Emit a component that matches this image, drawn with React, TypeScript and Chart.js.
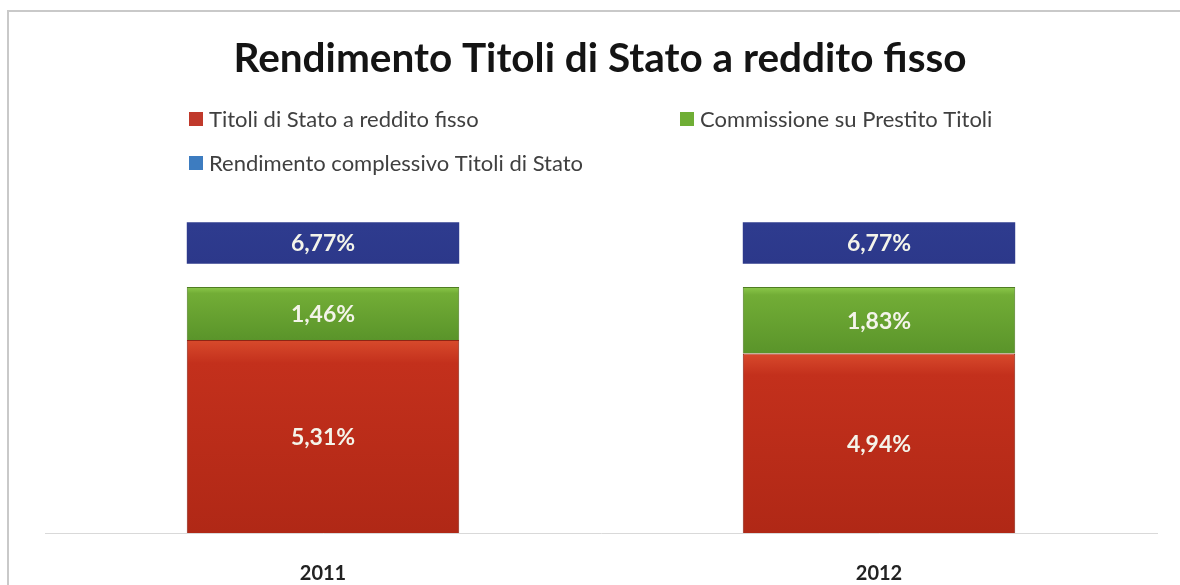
import React, { useEffect, useRef } from "react";
import { Chart, registerables } from "chart.js";

Chart.register(...registerables);

// ---- data ----
const categories = ["2011", "2012"];
const titoliValues = [5.31, 4.94];
const commissioneValues = [1.46, 1.83];
const complessivoValues = [6.77, 6.77];
const seriesNames = [
  "Titoli di Stato a reddito fisso",
  "Commissione su Prestito Titoli",
  "Rendimento complessivo Titoli di Stato",
];
const chartTitle = "Rendimento Titoli di Stato a reddito fisso";

// ---- style ----
const BOX_GAP = 0.64; // gap between stack and total box (value units)
const BOX_HEIGHT = 1.14; // height of total box (value units)
const GRAD = [
  ["#d84a2c", "#c3301c", "#b02816"],
  ["#8cc84a", "#72ad36", "#5a942a"],
  ["#2f3c8f", "#2e3b8e", "#2c388a"],
];
const BORDERS = ["#8e2414", "#4f7d22", "#243070"];
const LEGEND_BOX = ["#c0392b", "#6fae35", "#3d7cc0"];
const FONT = "Lato, 'Noto Sans', 'DejaVu Sans', sans-serif";

const fmt = (v: number) => v.toFixed(2).replace(".", ",") + "%";

const labelSets = [titoliValues, commissioneValues, complessivoValues];

const gradientFor = (di: number) => (c: any) => {
  const chart = c.chart;
  const y = chart.scales && chart.scales.y;
  const raw = c.raw;
  if (!y || !Array.isArray(raw) || !chart.chartArea) return GRAD[di][1];
  const top = y.getPixelForValue(raw[1]);
  const bot = y.getPixelForValue(raw[0]);
  if (!isFinite(top) || !isFinite(bot) || top === bot) return GRAD[di][1];
  const g = chart.ctx.createLinearGradient(0, top, 0, bot);
  g.addColorStop(0, GRAD[di][0]);
  g.addColorStop(0.12, GRAD[di][1]);
  g.addColorStop(1, GRAD[di][2]);
  return g;
};

const decorPlugin = {
  id: "decor",
  beforeDraw(chart: any) {
    const ctx = chart.ctx;
    ctx.save();
    ctx.fillStyle = "#ffffff";
    ctx.fillRect(0, 0, chart.width, chart.height);
    // frame
    ctx.strokeStyle = "#c9c9c9";
    ctx.lineWidth = 2;
    ctx.beginPath();
    ctx.moveTo(8, 585);
    ctx.lineTo(8, 11);
    ctx.lineTo(1180, 11);
    ctx.stroke();
    // title
    ctx.fillStyle = "#141414";
    ctx.font = `bold 40.5px ${FONT}`;
    ctx.textAlign = "center";
    ctx.textBaseline = "alphabetic";
    ctx.fillText(chartTitle, 600, 72);
    // legend
    const items = [
      { x: 189, y: 119 },
      { x: 680, y: 119 },
      { x: 189, y: 163 },
    ];
    ctx.font = `22px ${FONT}`;
    ctx.textAlign = "left";
    ctx.textBaseline = "middle";
    items.forEach((it, i) => {
      ctx.fillStyle = LEGEND_BOX[i];
      ctx.fillRect(it.x, it.y - 7, 14, 14);
      ctx.fillStyle = "#404040";
      ctx.fillText(seriesNames[i], it.x + 20, it.y + 1);
    });
    ctx.restore();
  },
  afterDatasetsDraw(chart: any) {
    const ctx = chart.ctx;
    ctx.save();
    ctx.font = `bold 23px ${FONT}`;
    ctx.fillStyle = "#f4f4ea";
    ctx.textAlign = "center";
    ctx.textBaseline = "middle";
    chart.data.datasets.forEach((_ds: any, di: number) => {
      const meta = chart.getDatasetMeta(di);
      meta.data.forEach((el: any, i: number) => {
        const cy = (el.y + el.base) / 2;
        ctx.fillText(fmt(labelSets[di][i]), el.x, cy + 1);
      });
    });
    ctx.restore();
  },
};

export default function App() {
  const canvasRef = useRef<HTMLCanvasElement | null>(null);

  useEffect(() => {
    if (!canvasRef.current) return;
    document.body.style.overflow = "hidden";
    const chart = new Chart(canvasRef.current, {
      type: "bar",
      data: {
        labels: categories,
        datasets: [
          {
            label: seriesNames[0],
            data: titoliValues.map((v) => [0, v]) as any,
            backgroundColor: gradientFor(0),
            borderColor: BORDERS[0],
            borderWidth: 1,
          },
          {
            label: seriesNames[1],
            data: titoliValues.map((v, i) => [v, v + commissioneValues[i]]) as any,
            backgroundColor: gradientFor(1),
            borderColor: BORDERS[1],
            borderWidth: 1,
          },
          {
            label: seriesNames[2],
            data: complessivoValues.map((v) => [v + BOX_GAP, v + BOX_GAP + BOX_HEIGHT]) as any,
            backgroundColor: gradientFor(2),
            borderColor: BORDERS[2],
            borderWidth: 0,
          },
        ],
      },
      options: {
        animation: false,
        responsive: true,
        maintainAspectRatio: false,
        barPercentage: 0.49,
        categoryPercentage: 1,
        layout: { padding: { top: 206, left: 45, right: 23, bottom: -30 } },
        plugins: {
          legend: { display: false },
          title: { display: false },
          tooltip: { enabled: false },
        },
        scales: {
          x: {
            stacked: true,
            grid: { display: false, drawTicks: false },
            border: { display: true, color: "#d9d9d9", width: 1 },
            ticks: {
              padding: 29,
              color: "#222222",
              font: { family: FONT, size: 20, weight: "bold" },
            },
          },
          y: {
            stacked: false,
            display: false,
            min: 0,
            max: 9,
          },
        },
      },
      plugins: [decorPlugin],
    });
    return () => chart.destroy();
  }, []);

  return (
    <div
      style={{
        position: "absolute",
        left: 0,
        top: 0,
        width: 1180,
        height: 585,
        overflow: "hidden",
      }}
    >
      <canvas ref={canvasRef} style={{ display: "block" }} />
    </div>
  );
}
